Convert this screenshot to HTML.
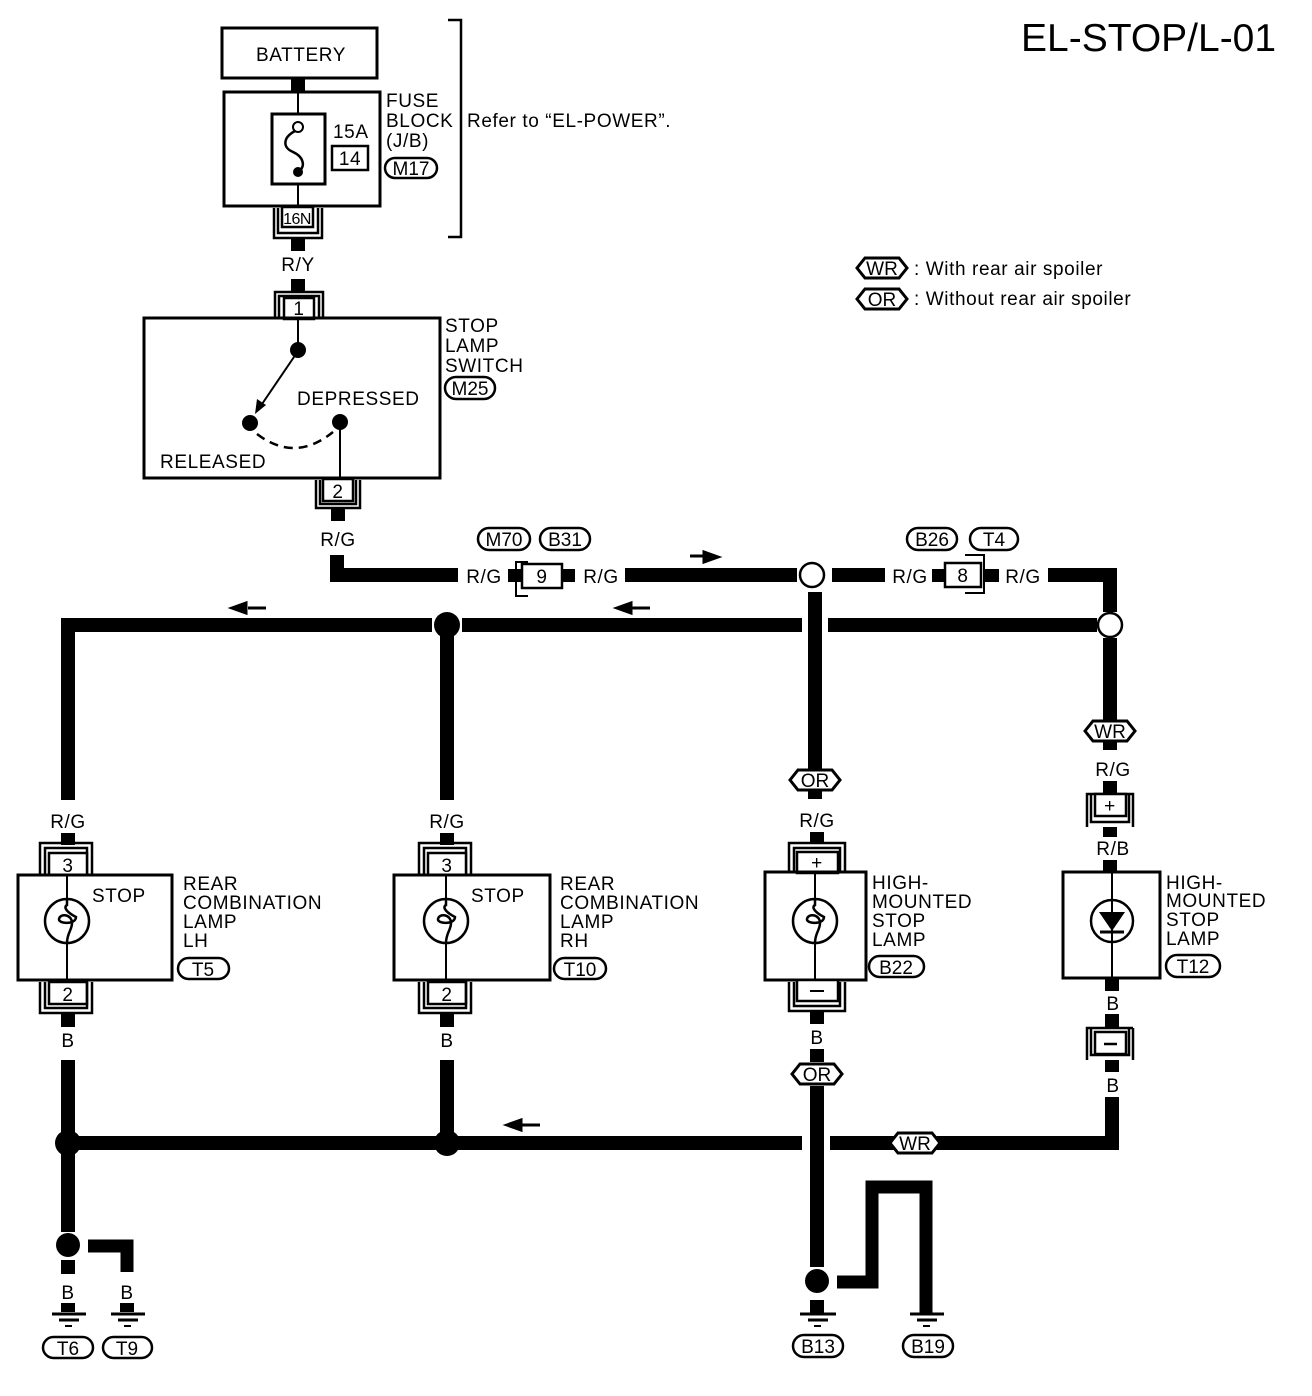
<!DOCTYPE html>
<html><head><meta charset="utf-8"><style>
html,body{margin:0;padding:0;background:#fff;}
svg{display:block;}
text{font-family:"Liberation Sans",Arial,sans-serif;fill:#000;}
</style></head><body>
<svg width="1312" height="1396" viewBox="0 0 1312 1396" xmlns="http://www.w3.org/2000/svg">
<defs>
<g id="hex"><path d="M-25,0 L-17,-10 L17,-10 L25,0 L17,10 L-17,10 Z" fill="#fff" stroke="#000" stroke-width="3"/></g>
</defs>
<g font-size="19" letter-spacing="0.6">
<!-- title -->
<text x="1021" y="51" font-size="39" letter-spacing="0">EL-STOP/L-01</text>

<!-- battery -->
<rect x="222" y="28" width="155" height="50" fill="none" stroke="#000" stroke-width="3"/>
<text x="301" y="61" text-anchor="middle">BATTERY</text>
<rect x="291" y="78" width="14" height="14" fill="#000"/>
<!-- fuse block -->
<rect x="224" y="92" width="156" height="114" fill="none" stroke="#000" stroke-width="3"/>
<line x1="298" y1="92" x2="298" y2="114" stroke="#000" stroke-width="2"/>
<rect x="272" y="114" width="53" height="70" fill="none" stroke="#000" stroke-width="3"/>
<circle cx="298" cy="127" r="5" fill="#fff" stroke="#000" stroke-width="2"/>
<path d="M295,131 C282,138 283,148 293,152 C304,157 306,167 298,172" fill="none" stroke="#000" stroke-width="2.5"/>
<circle cx="298" cy="172" r="5" fill="#000"/>
<line x1="298" y1="184" x2="298" y2="208" stroke="#000" stroke-width="2"/>
<text x="333" y="138">15A</text>
<rect x="332" y="146" width="36" height="24" fill="none" stroke="#000" stroke-width="2.5"/>
<text x="350" y="165" text-anchor="middle">14</text>
<text x="386" y="107">FUSE</text>
<text x="386" y="127">BLOCK</text>
<text x="386" y="147">(J/B)</text>
<rect x="385" y="158" width="52" height="20" rx="10" fill="none" stroke="#000" stroke-width="2.5"/>
<text x="411" y="175" text-anchor="middle" letter-spacing="0">M17</text>
<path d="M448,20 L461,20 L461,237 L448,237" fill="none" stroke="#000" stroke-width="2.5"/>
<text x="467" y="127">Refer to “EL-POWER”.</text>
<!-- 16N -->
<rect x="282" y="207" width="31" height="20" fill="#fff" stroke="#000" stroke-width="2.5"/>
<text x="297" y="224" text-anchor="middle" font-size="16" letter-spacing="-0.5">16N</text>
<path d="M274,208 L274,238 L322,238 L322,208 M278,208 L278,233 L318,233 L318,208" fill="none" stroke="#000" stroke-width="2.5"/>
<rect x="291" y="238" width="14" height="13" fill="#000"/>
<text x="298" y="271" text-anchor="middle">R/Y</text>
<rect x="291" y="279" width="14" height="13" fill="#000"/>
<!-- conn 1 -->
<path d="M275,319 L275,292 L323,292 L323,319 M279,319 L279,296 L319,296 L319,319" fill="none" stroke="#000" stroke-width="2.5"/>
<rect x="284" y="298" width="30" height="21" fill="#fff" stroke="#000" stroke-width="2.5"/>
<text x="299" y="315" text-anchor="middle">1</text>

<!-- switch -->
<rect x="144" y="318" width="296" height="160" fill="none" stroke="#000" stroke-width="3"/>
<line x1="298" y1="319" x2="298" y2="350" stroke="#000" stroke-width="2"/>
<circle cx="298" cy="350" r="8" fill="#000"/>
<line x1="296" y1="354" x2="260" y2="407" stroke="#000" stroke-width="2"/>
<path d="M255,414 L257,399 L266,405 Z" fill="#000"/>
<circle cx="250" cy="423" r="8" fill="#000"/>
<circle cx="340" cy="422" r="8" fill="#000"/>
<path d="M257,434 Q295,463 333,432" fill="none" stroke="#000" stroke-width="2.5" stroke-dasharray="9,6"/>
<line x1="340" y1="422" x2="340" y2="480" stroke="#000" stroke-width="2"/>
<text x="297" y="405">DEPRESSED</text>
<text x="160" y="468">RELEASED</text>
<text x="445" y="332">STOP</text>
<text x="445" y="352">LAMP</text>
<text x="445" y="372">SWITCH</text>
<rect x="445" y="377" width="50" height="22" rx="11" fill="none" stroke="#000" stroke-width="2.5"/>
<text x="470" y="395" text-anchor="middle" letter-spacing="0">M25</text>
<!-- conn 2 -->
<rect x="323" y="479" width="30" height="22" fill="#fff" stroke="#000" stroke-width="2.5"/>
<text x="338" y="498" text-anchor="middle">2</text>
<path d="M316,480 L316,508 L360,508 L360,480 M320,480 L320,504 L356,504 L356,480" fill="none" stroke="#000" stroke-width="2.5"/>
<rect x="331" y="508" width="14" height="13" fill="#000"/>
<text x="338" y="546" text-anchor="middle">R/G</text>

<!-- top R/G run -->
<path d="M337,555 L337,575 L458,575" fill="none" stroke="#000" stroke-width="14"/>
<text x="484" y="583" text-anchor="middle">R/G</text>
<rect x="508" y="569" width="14" height="13" fill="#000"/>
<rect x="561" y="569" width="14" height="13" fill="#000"/>
<path d="M528,562 L516,562 L516,596 L528,596" fill="none" stroke="#000" stroke-width="2"/>
<rect x="522" y="564" width="40" height="24" fill="#fff" stroke="#000" stroke-width="2.5"/>
<text x="542" y="583" text-anchor="middle">9</text>
<text x="601" y="583" text-anchor="middle">R/G</text>
<rect x="478" y="528" width="52" height="22" rx="11" fill="none" stroke="#000" stroke-width="2.5"/>
<text x="504" y="546" text-anchor="middle" letter-spacing="0">M70</text>
<rect x="540" y="528" width="50" height="22" rx="11" fill="none" stroke="#000" stroke-width="2.5"/>
<text x="565" y="546" text-anchor="middle" letter-spacing="0">B31</text>
<line x1="625" y1="575" x2="797" y2="575" stroke="#000" stroke-width="14"/>
<path d="M690,556 L706,556 M718,557 L704,552 L704,562 Z" stroke="#000" stroke-width="3" fill="#000"/>
<circle cx="812" cy="575" r="12" fill="#fff" stroke="#000" stroke-width="2.5"/>
<line x1="832" y1="575" x2="885" y2="575" stroke="#000" stroke-width="14"/>
<text x="910" y="583" text-anchor="middle">R/G</text>
<rect x="932" y="569" width="14" height="13" fill="#000"/>
<rect x="985" y="569" width="14" height="13" fill="#000"/>
<path d="M965,555 L984,555 L984,593 L965,593" fill="none" stroke="#000" stroke-width="2"/>
<rect x="945" y="563" width="36" height="24" fill="#fff" stroke="#000" stroke-width="2.5"/>
<text x="963" y="582" text-anchor="middle">8</text>
<text x="1023" y="583" text-anchor="middle">R/G</text>
<rect x="907" y="528" width="50" height="22" rx="11" fill="none" stroke="#000" stroke-width="2.5"/>
<text x="932" y="546" text-anchor="middle" letter-spacing="0">B26</text>
<rect x="970" y="528" width="48" height="22" rx="11" fill="none" stroke="#000" stroke-width="2.5"/>
<text x="994" y="546" text-anchor="middle" letter-spacing="0">T4</text>
<path d="M1048,575 L1110,575 L1110,612" fill="none" stroke="#000" stroke-width="14"/>
<circle cx="1110" cy="625" r="12" fill="#fff" stroke="#000" stroke-width="2.5"/>

<!-- second horizontal -->
<path d="M68,800 L68,625 L432,625" fill="none" stroke="#000" stroke-width="14"/>
<line x1="462" y1="625" x2="802" y2="625" stroke="#000" stroke-width="14"/>
<line x1="828" y1="625" x2="1097" y2="625" stroke="#000" stroke-width="14"/>
<circle cx="447" cy="625" r="13" fill="#000"/>
<line x1="447" y1="625" x2="447" y2="800" stroke="#000" stroke-width="14"/>
<path d="M248,608 L266,608 M232,608 L246,603 L246,613 Z" stroke="#000" stroke-width="3" fill="#000"/>
<path d="M632,608 L650,608 M617,608 L631,603 L631,613 Z" stroke="#000" stroke-width="3" fill="#000"/>
<line x1="815" y1="592" x2="815" y2="770" stroke="#000" stroke-width="14"/>
<line x1="1110" y1="638" x2="1110" y2="720" stroke="#000" stroke-width="14"/>

<!-- LH lamp -->
<text x="68" y="828" text-anchor="middle">R/G</text>
<rect x="61" y="833" width="14" height="12" fill="#000"/>
<path d="M40,875 L40,843 L92,843 L92,875 M45,875 L45,848 L87,848 L87,875" fill="none" stroke="#000" stroke-width="2.5"/>
<rect x="49" y="853" width="38" height="22" fill="#fff" stroke="#000" stroke-width="2.5"/>
<text x="68" y="872" text-anchor="middle">3</text>
<rect x="18" y="875" width="154" height="105" fill="none" stroke="#000" stroke-width="3"/>
<line x1="67" y1="875" x2="67" y2="982" stroke="#000" stroke-width="2"/>
<circle cx="67" cy="921" r="22" fill="#fff" stroke="#000" stroke-width="2.5"/>
<path d="M67,899 L67,905 C62,908 70,914 76,917 C76,925 58,924 59,919 C60,913 72,914 72,923 C72,930 67,933 67,943" fill="none" stroke="#000" stroke-width="2.5"/>
<text x="92" y="902">STOP</text>
<text x="183" y="890">REAR</text>
<text x="183" y="909">COMBINATION</text>
<text x="183" y="928">LAMP</text>
<text x="183" y="947">LH</text>
<rect x="178" y="958" width="51" height="21" rx="10.5" fill="none" stroke="#000" stroke-width="2.5"/>
<text x="203" y="976" text-anchor="middle" letter-spacing="0">T5</text>
<rect x="49" y="982" width="38" height="22" fill="#fff" stroke="#000" stroke-width="2.5"/>
<text x="68" y="1001" text-anchor="middle">2</text>
<path d="M40,982 L40,1013 L92,1013 L92,982 M45,982 L45,1008 L87,1008 L87,982" fill="none" stroke="#000" stroke-width="2.5"/>
<rect x="61" y="1013" width="14" height="14" fill="#000"/>
<text x="68" y="1047" text-anchor="middle">B</text>

<!-- RH lamp -->
<g transform="translate(379,0)">
<text x="68" y="828" text-anchor="middle">R/G</text>
<rect x="61" y="833" width="14" height="12" fill="#000"/>
<path d="M40,875 L40,843 L92,843 L92,875 M45,875 L45,848 L87,848 L87,875" fill="none" stroke="#000" stroke-width="2.5"/>
<rect x="49" y="853" width="38" height="22" fill="#fff" stroke="#000" stroke-width="2.5"/>
<text x="68" y="872" text-anchor="middle">3</text>
<rect x="15" y="875" width="156" height="105" fill="none" stroke="#000" stroke-width="3"/>
<line x1="67" y1="875" x2="67" y2="982" stroke="#000" stroke-width="2"/>
<circle cx="67" cy="921" r="22" fill="#fff" stroke="#000" stroke-width="2.5"/>
<path d="M67,899 L67,905 C62,908 70,914 76,917 C76,925 58,924 59,919 C60,913 72,914 72,923 C72,930 67,933 67,943" fill="none" stroke="#000" stroke-width="2.5"/>
<text x="92" y="902">STOP</text>
<text x="181" y="890">REAR</text>
<text x="181" y="909">COMBINATION</text>
<text x="181" y="928">LAMP</text>
<text x="181" y="947">RH</text>
<rect x="175" y="958" width="52" height="21" rx="10.5" fill="none" stroke="#000" stroke-width="2.5"/>
<text x="201" y="976" text-anchor="middle" letter-spacing="0">T10</text>
<rect x="49" y="982" width="38" height="22" fill="#fff" stroke="#000" stroke-width="2.5"/>
<text x="68" y="1001" text-anchor="middle">2</text>
<path d="M40,982 L40,1013 L92,1013 L92,982 M45,982 L45,1008 L87,1008 L87,982" fill="none" stroke="#000" stroke-width="2.5"/>
<rect x="61" y="1013" width="14" height="14" fill="#000"/>
<text x="68" y="1047" text-anchor="middle">B</text>
</g>

<!-- B22 high mounted -->
<use href="#hex" x="815" y="780"/>
<text x="815" y="787" text-anchor="middle" letter-spacing="0">OR</text>
<rect x="808" y="790" width="14" height="9" fill="#000"/>
<text x="817" y="827" text-anchor="middle">R/G</text>
<rect x="810" y="832" width="14" height="12" fill="#000"/>
<path d="M789,872 L789,843 L845,843 L845,872 M794,872 L794,848 L840,848 L840,872" fill="none" stroke="#000" stroke-width="2.5"/>
<rect x="797" y="852" width="41" height="21" fill="#fff" stroke="#000" stroke-width="2.5"/>
<text x="817" y="869" text-anchor="middle">+</text>
<rect x="765" y="872" width="101" height="108" fill="none" stroke="#000" stroke-width="3"/>
<line x1="815" y1="872" x2="815" y2="982" stroke="#000" stroke-width="2"/>
<circle cx="815" cy="921" r="22" fill="#fff" stroke="#000" stroke-width="2.5"/>
<path d="M815,899 L815,905 C810,908 818,914 824,917 C824,925 806,924 807,919 C808,913 820,914 820,923 C820,930 815,933 815,943" fill="none" stroke="#000" stroke-width="2.5"/>
<text x="872" y="889">HIGH-</text>
<text x="872" y="908">MOUNTED</text>
<text x="872" y="927">STOP</text>
<text x="872" y="946">LAMP</text>
<rect x="869" y="956" width="55" height="21" rx="10.5" fill="none" stroke="#000" stroke-width="2.5"/>
<text x="896" y="974" text-anchor="middle" letter-spacing="0">B22</text>
<rect x="797" y="980" width="41" height="21" fill="#fff" stroke="#000" stroke-width="2.5"/>
<line x1="810" y1="991" x2="824" y2="991" stroke="#000" stroke-width="2"/>
<path d="M789,982 L789,1011 L845,1011 L845,982 M794,982 L794,1006 L840,1006 L840,982" fill="none" stroke="#000" stroke-width="2.5"/>
<rect x="810" y="1011" width="14" height="13" fill="#000"/>
<text x="817" y="1044" text-anchor="middle">B</text>
<rect x="810" y="1049" width="14" height="13" fill="#000"/>
<use href="#hex" x="817" y="1074"/>
<text x="817" y="1081" text-anchor="middle" letter-spacing="0">OR</text>

<!-- T12 LED -->
<use href="#hex" x="1110" y="731"/>
<text x="1110" y="738" text-anchor="middle" letter-spacing="0">WR</text>
<rect x="1103" y="741" width="14" height="9" fill="#000"/>
<text x="1113" y="776" text-anchor="middle">R/G</text>
<rect x="1103" y="781" width="14" height="12" fill="#000"/>
<path d="M1087,827 L1087,794 L1133,794 L1133,827 M1091,794 L1091,822 L1129,822 L1129,794" fill="none" stroke="#000" stroke-width="2.5"/>
<rect x="1095" y="794" width="31" height="22" fill="#fff" stroke="#000" stroke-width="2.5"/>
<text x="1110" y="812" text-anchor="middle">+</text>
<rect x="1103" y="827" width="14" height="10" fill="#000"/>
<text x="1113" y="855" text-anchor="middle">R/B</text>
<rect x="1103" y="860" width="14" height="12" fill="#000"/>
<rect x="1063" y="872" width="97" height="106" fill="none" stroke="#000" stroke-width="3"/>
<line x1="1112" y1="872" x2="1112" y2="980" stroke="#000" stroke-width="2"/>
<circle cx="1112" cy="921" r="21" fill="none" stroke="#000" stroke-width="2.5"/>
<path d="M1099,912 L1125,912 L1112,931 Z" fill="#000"/>
<line x1="1100" y1="932" x2="1124" y2="932" stroke="#000" stroke-width="3"/>
<text x="1166" y="889">HIGH-</text>
<text x="1166" y="907">MOUNTED</text>
<text x="1166" y="926">STOP</text>
<text x="1166" y="945">LAMP</text>
<rect x="1166" y="955" width="54" height="22" rx="11" fill="none" stroke="#000" stroke-width="2.5"/>
<text x="1193" y="973" text-anchor="middle" letter-spacing="0">T12</text>
<rect x="1105" y="978" width="14" height="13" fill="#000"/>
<text x="1113" y="1010" text-anchor="middle">B</text>
<rect x="1105" y="1014" width="14" height="14" fill="#000"/>
<path d="M1087,1060 L1087,1028 L1133,1028 M1133,1028 L1133,1060 M1091,1028 L1091,1055 L1129,1055 L1129,1028" fill="none" stroke="#000" stroke-width="2.5"/>
<rect x="1095" y="1032" width="31" height="22" fill="#fff" stroke="#000" stroke-width="2.5"/>
<line x1="1104" y1="1044" x2="1117" y2="1044" stroke="#000" stroke-width="2.5"/>
<rect x="1105" y="1060" width="14" height="12" fill="#000"/>
<text x="1113" y="1092" text-anchor="middle">B</text>

<!-- bottom ground bus -->
<path d="M1112,1097 L1112,1143 L830,1143" fill="none" stroke="#000" stroke-width="14"/>
<use href="#hex" x="915" y="1143"/>
<text x="915" y="1150" text-anchor="middle" letter-spacing="0">WR</text>
<line x1="68" y1="1143" x2="802" y2="1143" stroke="#000" stroke-width="14"/>
<path d="M522,1125 L540,1125 M507,1125 L521,1120 L521,1130 Z" stroke="#000" stroke-width="3" fill="#000"/>
<line x1="68" y1="1060" x2="68" y2="1232" stroke="#000" stroke-width="14"/>
<line x1="447" y1="1060" x2="447" y2="1143" stroke="#000" stroke-width="14"/>
<circle cx="68" cy="1143" r="13" fill="#000"/>
<circle cx="447" cy="1143" r="13" fill="#000"/>
<line x1="817" y1="1086" x2="817" y2="1267" stroke="#000" stroke-width="14"/>

<!-- T6/T9 -->
<circle cx="68" cy="1245" r="12" fill="#000"/>
<rect x="61" y="1260" width="14" height="14" fill="#000"/>
<path d="M88,1246 L127,1246 L127,1272" fill="none" stroke="#000" stroke-width="13"/>
<text x="68" y="1299" text-anchor="middle">B</text>
<text x="127" y="1299" text-anchor="middle">B</text>
<g stroke="#000">
<rect x="61" y="1303" width="14" height="9" fill="#000" stroke="none"/>
<line x1="52" y1="1314" x2="86" y2="1314" stroke-width="3"/>
<line x1="59" y1="1320" x2="79" y2="1320" stroke-width="3"/>
<line x1="65" y1="1326" x2="72" y2="1326" stroke-width="2"/>
<rect x="120" y="1303" width="14" height="9" fill="#000" stroke="none"/>
<line x1="111" y1="1314" x2="145" y2="1314" stroke-width="3"/>
<line x1="118" y1="1320" x2="138" y2="1320" stroke-width="3"/>
<line x1="124" y1="1326" x2="131" y2="1326" stroke-width="2"/>
</g>
<rect x="43" y="1337" width="50" height="21" rx="10.5" fill="none" stroke="#000" stroke-width="2.5"/>
<text x="68" y="1355" text-anchor="middle" letter-spacing="0">T6</text>
<rect x="103" y="1337" width="49" height="21" rx="10.5" fill="none" stroke="#000" stroke-width="2.5"/>
<text x="127" y="1355" text-anchor="middle" letter-spacing="0">T9</text>

<!-- B13/B19 -->
<circle cx="817" cy="1281" r="12" fill="#000"/>
<path d="M837,1282 L872,1282 L872,1187 L926,1187 L926,1313" fill="none" stroke="#000" stroke-width="13"/>
<g stroke="#000">
<rect x="810" y="1300" width="14" height="13" fill="#000" stroke="none"/>
<line x1="800" y1="1314" x2="836" y2="1314" stroke-width="3"/>
<line x1="808" y1="1320" x2="828" y2="1320" stroke-width="3"/>
<line x1="814" y1="1326" x2="821" y2="1326" stroke-width="2"/>
<line x1="910" y1="1314" x2="944" y2="1314" stroke-width="3"/>
<line x1="917" y1="1320" x2="937" y2="1320" stroke-width="3"/>
<line x1="923" y1="1326" x2="930" y2="1326" stroke-width="2"/>
</g>
<rect x="793" y="1335" width="50" height="22" rx="11" fill="none" stroke="#000" stroke-width="2.5"/>
<text x="818" y="1353" text-anchor="middle" letter-spacing="0">B13</text>
<rect x="903" y="1335" width="50" height="22" rx="11" fill="none" stroke="#000" stroke-width="2.5"/>
<text x="928" y="1353" text-anchor="middle" letter-spacing="0">B19</text>

<!-- legend -->
<use href="#hex" x="882" y="268"/>
<text x="882" y="275" text-anchor="middle" letter-spacing="0">WR</text>
<text x="914" y="275">: With rear air spoiler</text>
<use href="#hex" x="882" y="299"/>
<text x="882" y="306" text-anchor="middle" letter-spacing="0">OR</text>
<text x="914" y="305">: Without rear air spoiler</text>
</g>
</svg>
</body></html>
